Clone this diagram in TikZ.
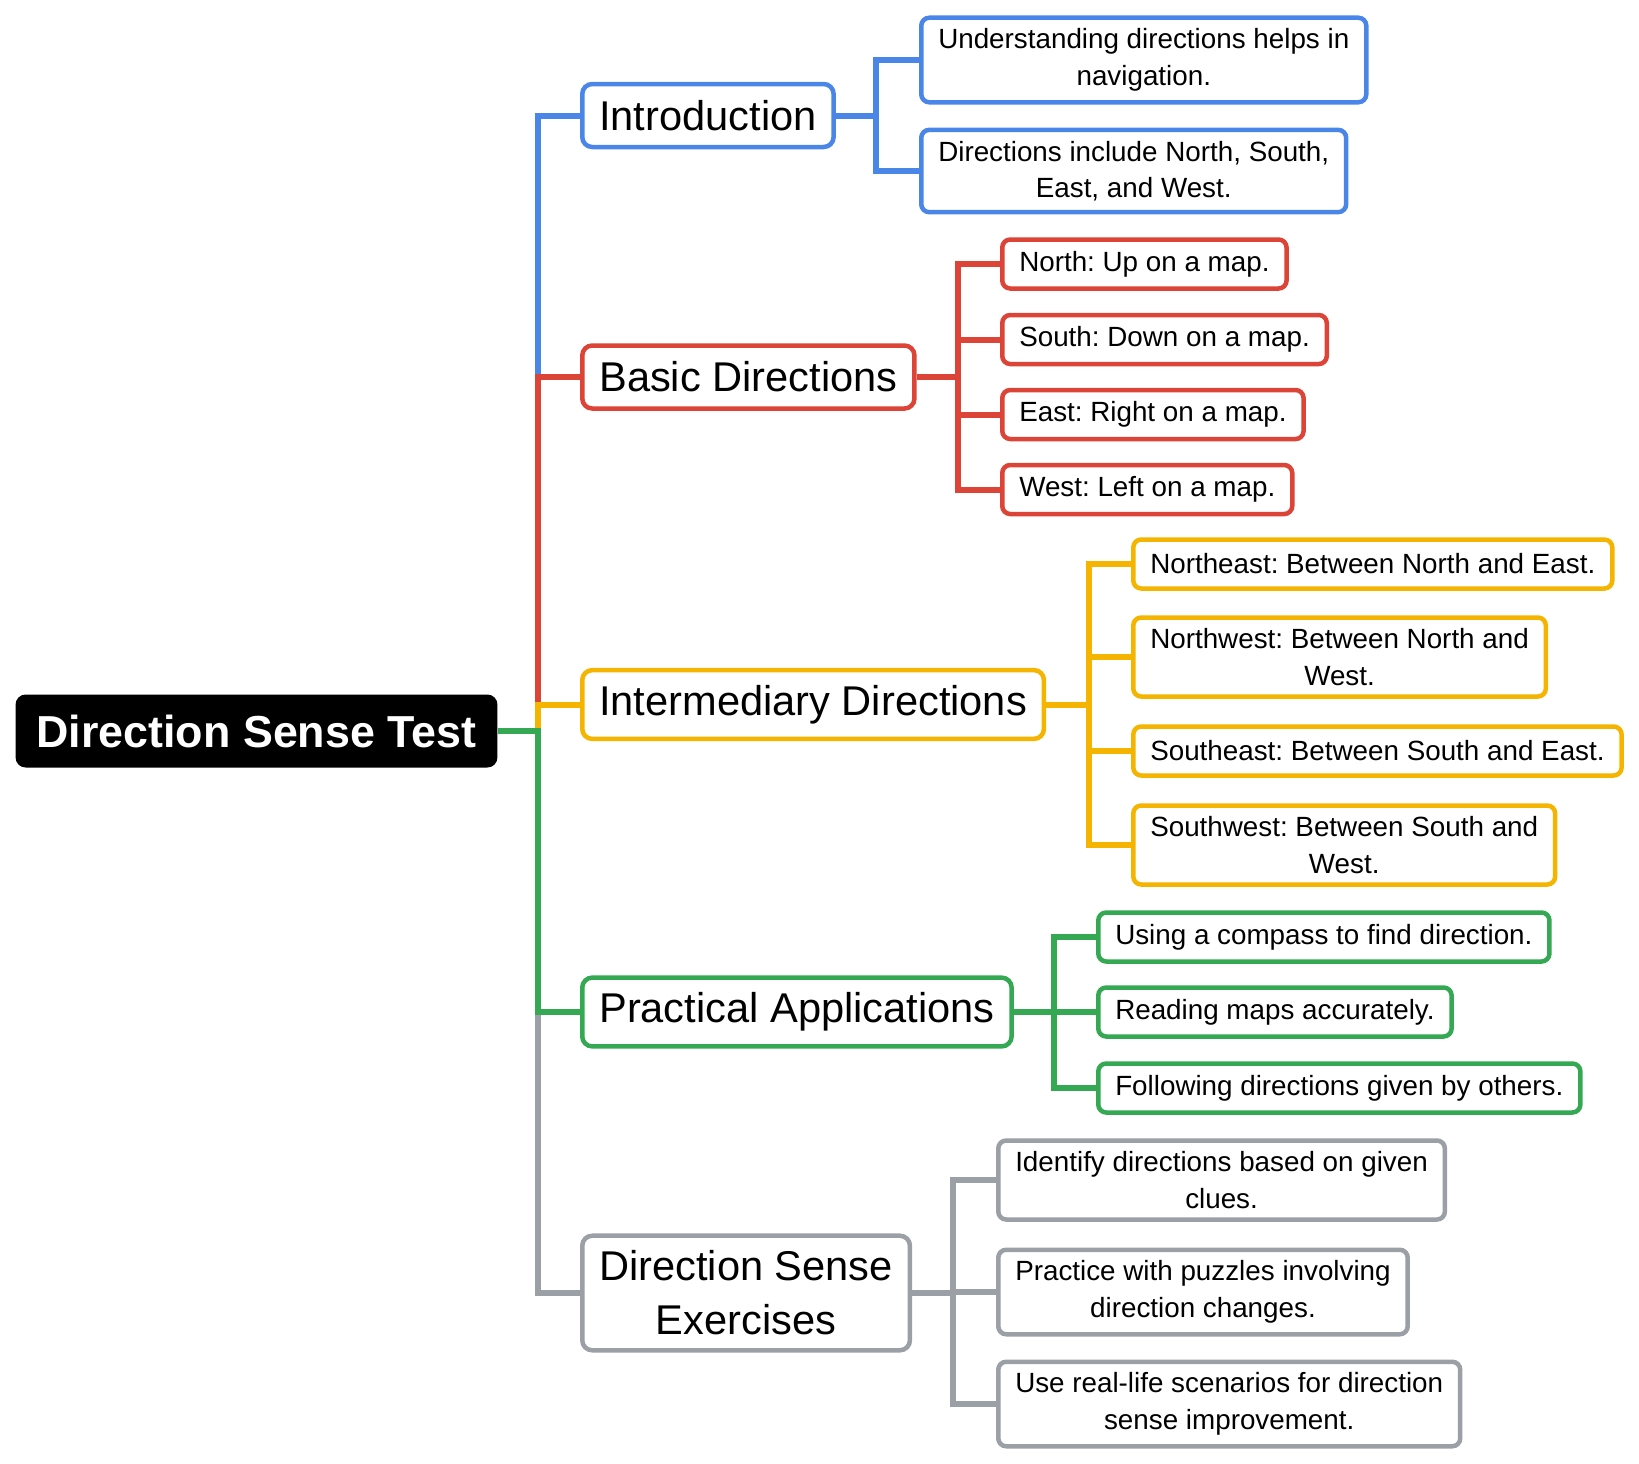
\documentclass[tikz,border=0pt]{standalone}
\usepackage{fontspec}
\setmainfont{Liberation Sans}
\usetikzlibrary{backgrounds}
\definecolor{cblue}{HTML}{4A86E8}
\definecolor{cred}{HTML}{DB4437}
\definecolor{cyellow}{HTML}{F4B400}
\definecolor{cgreen}{HTML}{34A853}
\definecolor{cgray}{HTML}{9AA0A6}
\tikzstyle{root}=[rectangle, rounded corners=5pt, fill=black, text=white, font=\fontsize{22.4}{27}\selectfont\bfseries, inner xsep=10.5pt, minimum height=36.5pt, anchor=center]
\tikzstyle{topic}=[rectangle, rounded corners=5pt, draw, line width=2.25pt, fill=white, font=\fontsize{20.8}{27}\selectfont, inner xsep=8.5pt, inner ysep=7.5pt, minimum height=31.5pt, align=center, anchor=west]
\tikzstyle{leaf}=[rectangle, rounded corners=4pt, draw, line width=2.25pt, fill=white, font=\fontsize{13.9}{18.3}\selectfont, inner xsep=8.5pt, inner ysep=5.5pt, minimum height=24.5pt, align=center, anchor=west]
\tikzstyle{link}=[line width=3pt]
\newcommand{\elbow}[4]{\draw[link, draw=#1] (#2.east) -- (#2.east -| #3) |- (#4.west);}

\begin{document}
\frenchspacing
\begin{tikzpicture}[x=0.5pt,y=-0.5pt]
	\useasboundingbox (0,0) rectangle (1639,1463);

	\node[root] (dst) at (256.5,731) {Direction Sense Test};

	\node[topic, draw=cblue] (intro) at (580,115.5) {Introduction};
	\node[topic, draw=cred] (basic) at (580,377) {Basic Directions};
	\node[topic, draw=cyellow] (inter) at (580,704.5) {Intermediary Directions};
	\node[topic, draw=cgreen] (pract) at (580,1012) {Practical Applications};
	\node[topic, draw=cgray] (exer) at (580,1293) {Direction Sense\\Exercises};

	\node[leaf, draw=cblue] (intro1) at (919,60) {Understanding directions helps in\\navigation.};
	\node[leaf, draw=cblue] (intro2) at (919,171) {Directions include North, South,\\East, and West.};

	\node[leaf, draw=cred] (basic1) at (1000,264) {North: Up on a map.};
	\node[leaf, draw=cred] (basic2) at (1000,339.5) {South: Down on a map.};
	\node[leaf, draw=cred] (basic3) at (1000,414.5) {East: Right on a map.};
	\node[leaf, draw=cred] (basic4) at (1000,489.5) {West: Left on a map.};

	\node[leaf, draw=cyellow] (inter1) at (1131,564) {Northeast: Between North and East.};
	\node[leaf, draw=cyellow] (inter2) at (1131,657) {Northwest: Between North and\\West.};
	\node[leaf, draw=cyellow] (inter3) at (1131,751) {Southeast: Between South and East.};
	\node[leaf, draw=cyellow] (inter4) at (1131,845) {Southwest: Between South and\\West.};

	\node[leaf, draw=cgreen] (pract1) at (1096,937) {Using a compass to find direction.};
	\node[leaf, draw=cgreen] (pract2) at (1096,1012) {Reading maps accurately.};
	\node[leaf, draw=cgreen] (pract3) at (1096,1088) {Following directions given by others.};

	\node[leaf, draw=cgray] (exer1) at (996,1180) {Identify directions based on given\\clues.};
	\node[leaf, draw=cgray] (exer2) at (996,1292) {Practice with puzzles involving\\direction changes.};
	\node[leaf, draw=cgray] (exer3) at (996,1404) {Use real-life scenarios for direction\\sense improvement.};

	% branch columns
	\coordinate (trunk) at (538,0);
	\coordinate (bI) at (876,0);
	\coordinate (bB) at (958,0);
	\coordinate (bM) at (1089,0);
	\coordinate (bP) at (1054,0);
	\coordinate (bE) at (953,0);

	\begin{scope}[on background layer]
		\elbow{cgray}{dst}{trunk}{exer}
		\elbow{cblue}{dst}{trunk}{intro}
		\elbow{cred}{dst}{trunk}{basic}
		\elbow{cyellow}{dst}{trunk}{inter}
		\elbow{cgreen}{dst}{trunk}{pract}
		\foreach \n in {intro1,intro2} {\elbow{cblue}{intro}{bI}{\n}}
		\foreach \n in {basic1,basic2,basic3,basic4} {\elbow{cred}{basic}{bB}{\n}}
		\foreach \n in {inter1,inter2,inter3,inter4} {\elbow{cyellow}{inter}{bM}{\n}}
		\foreach \n in {pract1,pract2,pract3} {\elbow{cgreen}{pract}{bP}{\n}}
		\foreach \n in {exer1,exer2,exer3} {\elbow{cgray}{exer}{bE}{\n}}
	\end{scope}
\end{tikzpicture}
\end{document}
